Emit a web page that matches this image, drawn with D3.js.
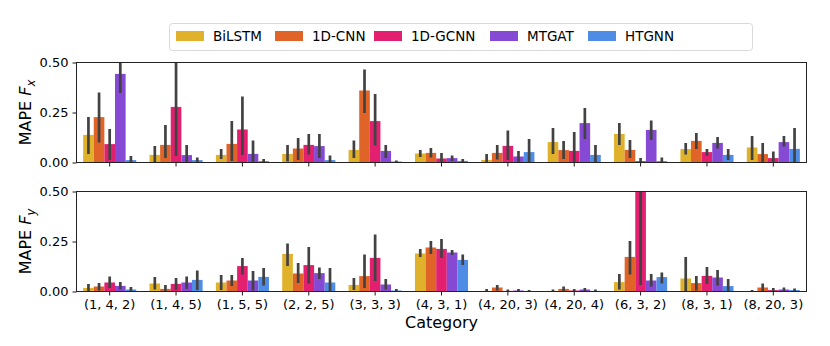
<!DOCTYPE html>
<html><head><meta charset="utf-8">
<script src="https://cdn.jsdelivr.net/npm/d3@7"></script>
<style>body{margin:0;background:#fff}svg{display:block}text{font-family:"DejaVu Sans",sans-serif}</style>
</head><body><svg id="c" width="830" height="346"></svg>
<script>
const categories = ["(1, 4, 2)","(1, 4, 5)","(1, 5, 5)","(2, 2, 5)","(3, 3, 3)","(4, 3, 1)","(4, 20, 3)","(4, 20, 4)","(6, 3, 2)","(8, 3, 1)","(8, 20, 3)"];
const models = ["BiLSTM","1D-CNN","1D-GCNN","MTGAT","HTGNN"];
const colors = ["#e0b12a","#e06427","#e2206f","#8549d4","#4f8ce6"];
const yTicks = [0, 0.25, 0.5];
const yTickLabels = ["0.00","0.25","0.50"];

// Fx means per model across categories
const fxMean = {
  "BiLSTM": [0.138,0.038,0.038,0.043,0.063,0.045,0.013,0.102,0.143,0.067,0.075],
  "1D-CNN": [0.227,0.088,0.093,0.070,0.360,0.048,0.048,0.062,0.063,0.108,0.042],
  "1D-GCNN":[0.092,0.278,0.165,0.088,0.207,0.020,0.083,0.058,0.007,0.052,0.022],
  "MTGAT":  [0.443,0.037,0.043,0.082,0.058,0.022,0.030,0.197,0.163,0.098,0.102],
  "HTGNN":  [0.012,0.012,0.007,0.012,0.005,0.008,0.052,0.038,0.007,0.038,0.068]
};
const fxLo = {
  "BiLSTM": [0.043,0.000,0.017,0.005,0.022,0.027,0.000,0.042,0.088,0.040,0.013],
  "1D-CNN": [0.100,0.022,0.008,0.012,0.247,0.025,0.015,0.017,0.022,0.067,0.000],
  "1D-GCNN":[0.013,0.033,0.038,0.040,0.085,0.000,0.012,0.000,0.000,0.032,0.000],
  "MTGAT":  [0.347,0.000,0.000,0.022,0.022,0.008,0.000,0.117,0.113,0.070,0.080],
  "HTGNN":  [0.000,0.000,0.000,0.000,0.000,0.000,0.000,0.000,0.000,0.013,0.000]
};
const fxHi = {
  "BiLSTM": [0.227,0.082,0.067,0.087,0.110,0.063,0.043,0.172,0.197,0.097,0.133],
  "1D-CNN": [0.350,0.187,0.207,0.123,0.465,0.072,0.088,0.107,0.113,0.147,0.097],
  "1D-GCNN":[0.167,0.560,0.330,0.142,0.342,0.047,0.160,0.153,0.022,0.068,0.055],
  "MTGAT":  [0.540,0.088,0.110,0.142,0.088,0.035,0.057,0.272,0.210,0.128,0.133],
  "HTGNN":  [0.033,0.025,0.017,0.035,0.010,0.017,0.118,0.088,0.025,0.068,0.172]
};

// Fy
const fyMean = {
  "BiLSTM": [0.018,0.040,0.045,0.188,0.033,0.190,0.003,0.003,0.047,0.065,0.002],
  "1D-CNN": [0.025,0.013,0.055,0.090,0.077,0.220,0.020,0.013,0.173,0.042,0.020],
  "1D-GCNN":[0.045,0.038,0.127,0.132,0.168,0.213,0.003,0.005,0.620,0.078,0.007],
  "MTGAT":  [0.028,0.045,0.055,0.092,0.035,0.195,0.005,0.010,0.055,0.070,0.010],
  "HTGNN":  [0.010,0.058,0.073,0.045,0.005,0.158,0.002,0.003,0.072,0.027,0.007]
};
const fyLo = {
  "BiLSTM": [0.000,0.010,0.008,0.128,0.008,0.172,0.000,0.000,0.010,0.000,0.000],
  "1D-CNN": [0.005,0.000,0.028,0.042,0.018,0.188,0.005,0.000,0.085,0.005,0.000],
  "1D-GCNN":[0.018,0.008,0.085,0.040,0.052,0.168,0.000,0.000,0.033,0.037,0.000],
  "MTGAT":  [0.010,0.013,0.005,0.062,0.010,0.182,0.000,0.000,0.025,0.030,0.000],
  "HTGNN":  [0.000,0.008,0.030,0.000,0.000,0.133,0.000,0.000,0.040,0.000,0.000]
};
const fyHi = {
  "BiLSTM": [0.038,0.073,0.082,0.240,0.067,0.212,0.012,0.010,0.088,0.173,0.007],
  "1D-CNN": [0.042,0.033,0.083,0.143,0.185,0.252,0.033,0.025,0.252,0.078,0.040],
  "1D-GCNN":[0.075,0.067,0.167,0.223,0.285,0.263,0.010,0.013,1.100,0.123,0.017],
  "MTGAT":  [0.048,0.075,0.103,0.120,0.062,0.208,0.013,0.017,0.088,0.108,0.020],
  "HTGNN":  [0.022,0.105,0.117,0.118,0.013,0.185,0.008,0.010,0.095,0.062,0.015]
};

const svg = d3.select("#c");
const L = 76.5, R = 806.5;
const panels = [
  {top: 62.5, bottom: 162.5, mean: fxMean, lo: fxLo, hi: fxHi, label: "x", showX: false},
  {top: 191.5, bottom: 291.5, mean: fyMean, lo: fyLo, hi: fyHi, label: "y", showX: true}
];

const x0 = d3.scaleBand().domain(categories).range([L, R]).paddingInner(0).paddingOuter(0);
// seaborn: hue group takes 0.8 of each category band
const xm = d3.scaleBand().domain(models).range([x0.bandwidth()*0.1, x0.bandwidth()*0.9]);

panels.forEach((p, pi) => {
  const y = d3.scaleLinear().domain([0, 0.5]).range([p.bottom, p.top]);
  const g = svg.append("g");
  const cid = "clip" + pi;
  svg.append("clipPath").attr("id", cid).append("rect")
    .attr("x", L).attr("y", p.top).attr("width", R - L).attr("height", p.bottom - p.top);
  const plot = g.append("g").attr("clip-path", `url(#${cid})`);
  models.forEach((m, mi) => {
    plot.selectAll(null).data(categories).enter().append("rect")
      .attr("x", (c) => x0(c) + xm(m))
      .attr("width", xm.bandwidth())
      .attr("y", (c, i) => y(p.mean[m][i]))
      .attr("height", (c, i) => y(0) - y(p.mean[m][i]))
      .attr("fill", colors[mi]);
  });
  models.forEach((m, mi) => {
    plot.selectAll(null).data(categories).enter().append("line")
      .attr("x1", (c) => x0(c) + xm(m) + xm.bandwidth()/2)
      .attr("x2", (c) => x0(c) + xm(m) + xm.bandwidth()/2)
      .attr("y1", (c, i) => y(p.lo[m][i]))
      .attr("y2", (c, i) => y(p.hi[m][i]))
      .attr("stroke", "#424242").attr("stroke-width", 2.7);
  });
  // y axis
  const ya = d3.axisLeft(y).tickValues(yTicks).tickFormat((d, i) => yTickLabels[i]).tickSize(4).tickPadding(4);
  const yg = g.append("g").attr("transform", `translate(${L},0)`).call(ya);
  yg.select(".domain").remove();
  yg.selectAll("line").attr("stroke", "#000").attr("stroke-width", 0.9);
  yg.selectAll("text").attr("font-size", 13).attr("fill", "#000").style("font-family", '"DejaVu Sans",sans-serif');
  // x axis ticks
  const xa = d3.axisBottom(x0).tickSize(4).tickPadding(4).tickFormat(p.showX ? (d) => d : () => "");
  const xg = g.append("g").attr("transform", `translate(0,${p.bottom})`).call(xa);
  xg.select(".domain").remove();
  xg.selectAll("line").attr("stroke", "#000").attr("stroke-width", 0.9);
  xg.selectAll("text").attr("font-size", 13).attr("fill", "#000").style("font-family", '"DejaVu Sans",sans-serif');
  // frame
  g.append("rect").attr("x", L).attr("y", p.top).attr("width", R - L).attr("height", p.bottom - p.top)
    .attr("fill", "none").attr("stroke", "#222").attr("stroke-width", 1);
  // y label
  const cy = (p.top + p.bottom)/2;
  const t = g.append("text").attr("transform", `translate(31,${cy}) rotate(-90)`)
    .attr("text-anchor", "middle").attr("font-size", 16).attr("fill", "#000");
  t.append("tspan").text("MAPE ");
  t.append("tspan").attr("font-style", "italic").text("F");
  t.append("tspan").attr("font-style", "italic").attr("font-size", 11.5).attr("dy", 4).text(p.label);
});

svg.append("text").attr("x", (L + R)/2).attr("y", 328).attr("text-anchor", "middle")
  .attr("font-size", 16).attr("fill", "#000").text("Category");

// legend
const lg = svg.append("g");
lg.append("rect").attr("x", 169.5).attr("y", 23.5).attr("width", 583).attr("height", 27).attr("rx", 3)
  .attr("fill", "#fff").attr("stroke", "#d9d9d9").attr("stroke-width", 1);
const legX = [176, 275, 374, 490, 588];
models.forEach((m, i) => {
  lg.append("rect").attr("x", legX[i]).attr("y", 31).attr("width", 28).attr("height", 10).attr("fill", colors[i]);
  lg.append("text").attr("x", legX[i] + 37).attr("y", 41).attr("font-size", 13.5).attr("fill", "#000").text(m);
});
</script></body></html>
